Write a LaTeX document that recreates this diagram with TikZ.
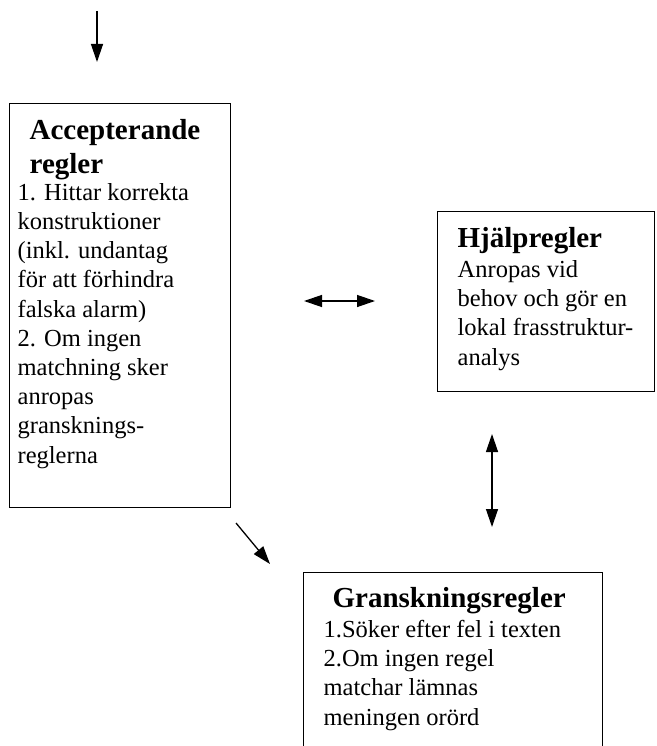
\documentclass[tikz,border=0pt]{standalone}
\usepackage{fontspec}
\setmainfont{Liberation Serif}
\usetikzlibrary{arrows.meta, positioning}

\begin{document}
\begin{tikzpicture}[x=1pt,y=-1pt,
		box/.style={draw, line width=1.4pt, anchor=north west, inner sep=0pt},
		head/.style={anchor=base west, align=left, inner sep=0pt, font=\fontsize{29}{33}\selectfont\bfseries},
		body/.style={anchor=base west, align=left, inner sep=0pt, font=\fontsize{24.5}{29.2}\selectfont},
		>={Triangle[length=18pt,width=12pt]}, line width=1.3pt]
	\useasboundingbox (0,0) rectangle (656,746);
	% boxes
	\node[box, minimum width=221pt, minimum height=404pt] (acc) at (9,103) {};
	\node[box, minimum width=217pt, minimum height=180pt] (hjp) at (437,211) {};
	\node[box, minimum width=299pt, minimum height=220pt] (gr) at (303,572) {};
	% texts (placed by the baseline of their last line)
	\node[head] (acct) at (29,173) {Accepterande\\regler};
	\node[body] (accb) at (17,463) {1. Hittar korrekta\\konstruktioner\\(inkl. undantag\\för att förhindra\\falska alarm)\\2. Om ingen\\matchning sker\\anropas\\gransknings-\\reglerna};
	\node[head] (hjpt) at (457,247) {Hjälpregler};
	\node[body] (hjpb) at (457,365) {Anropas vid\\behov och gör en\\lokal frasstruktur-\\analys};
	\node[head] (grt) at (332,607) {Granskningsregler};
	\node[body] (grb) at (323,725) {1.Söker efter fel i texten\\2.Om ingen regel\\matchar lämnas\\meningen orörd};
	% arrows
	\coordinate (in0) at (97,11);
	\coordinate (in1) at (97,62);
	\coordinate (h0) at (304,301);
	\coordinate (h1) at (375,301);
	\coordinate (v0) at (492,434);
	\coordinate (v1) at (492,527);
	\coordinate (d0) at (236,523);
	\coordinate (d1) at (270,564);
	\draw[->] (in0) -- (in1);
	\draw[<->] (h0) -- (h1);
	\draw[<->] (v0) -- (v1);
	\draw[->] (d0) -- (d1);
\end{tikzpicture}
\end{document}
